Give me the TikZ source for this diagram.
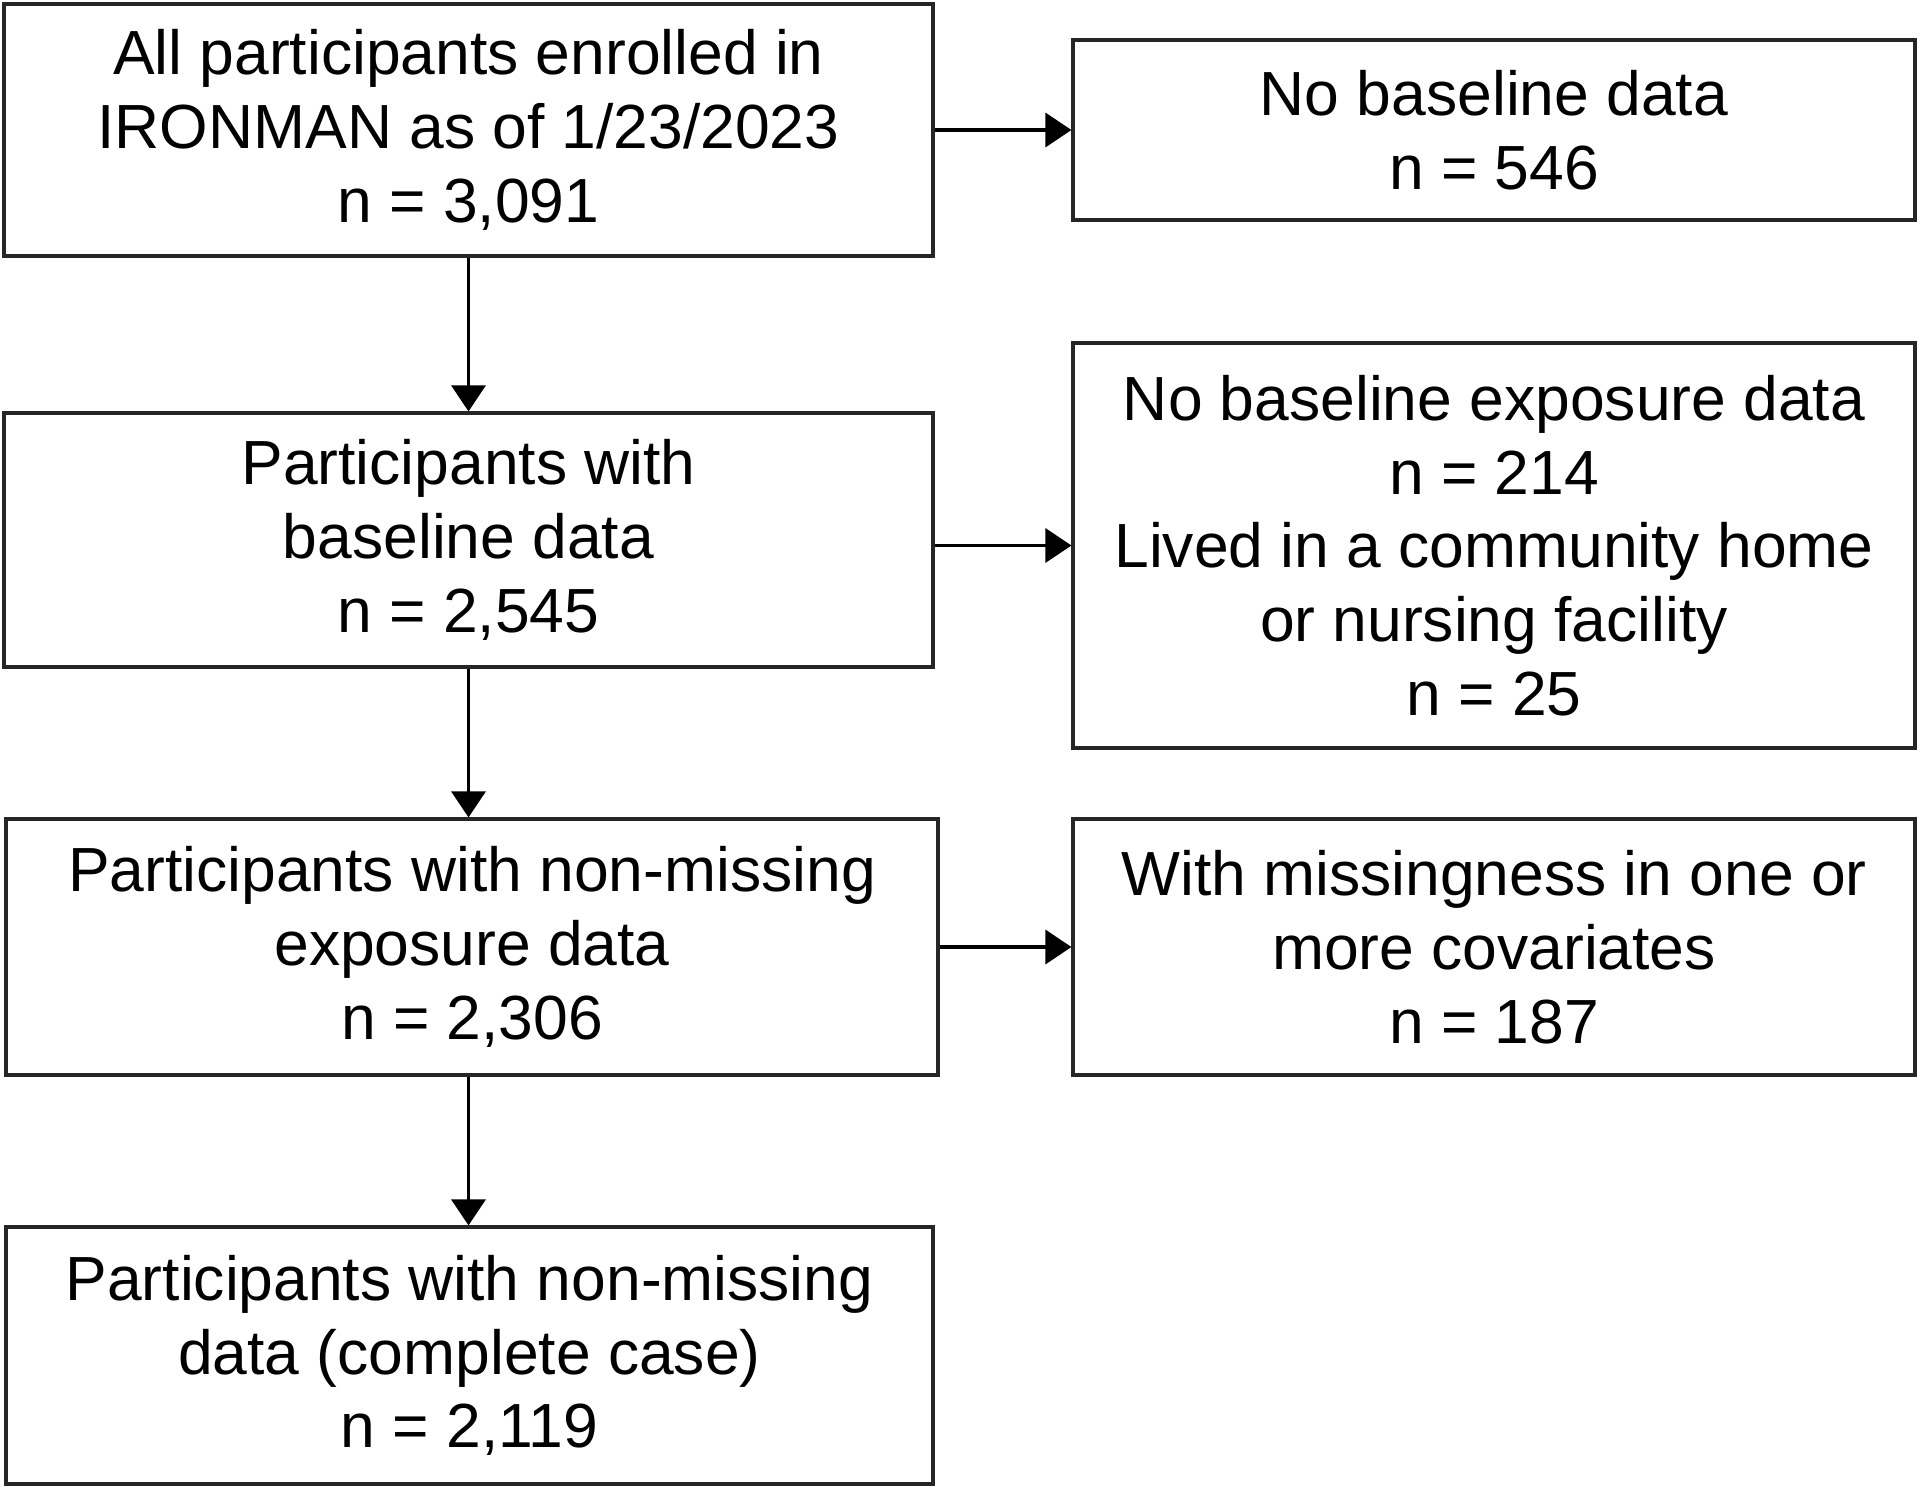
\documentclass[tikz,border=0pt]{standalone}
\usepackage{fontspec}
\setmainfont{Liberation Sans}
\usetikzlibrary{arrows.meta}

\tikzset{
  flowbox/.style={draw=black!85, line width=0.065cm, align=center, inner sep=0pt,
    font=\fontsize{35.5}{42}\selectfont},
  flowarrow/.style={-{Triangle[length=0.52cm,width=0.68cm]}, line width=0.065cm}
}

\begin{document}
\begin{tikzpicture}[x=0.02cm,y=-0.02cm]
    \useasboundingbox (0,0) rectangle (1920,1488);

    % left column
    \node[flowbox, minimum width=18.58cm, minimum height=5.04cm] (enrolled) at (468.5,130)
        {All participants enrolled in\\IRONMAN as of 1/23/2023\\n = 3,091};
    \node[flowbox, minimum width=18.58cm, minimum height=5.08cm] (baseline) at (468.5,540)
        {Participants with\\baseline data\\n = 2,545};
    \node[flowbox, minimum width=18.64cm, minimum height=5.12cm] (exposure) at (472,947)
        {Participants with non-missing\\exposure data\\n = 2,306};
    \node[flowbox, minimum width=18.54cm, minimum height=5.14cm] (complete) at (469.5,1355.5)
        {Participants with non-missing\\data (complete case)\\n = 2,119};

    % exclusions
    \node[flowbox, minimum width=16.84cm, minimum height=3.6cm] (nobase) at (1494,130)
        {No baseline data\\n = 546};
    \node[flowbox, minimum width=16.84cm, minimum height=8.1cm] (noexp) at (1494,545.5)
        {No baseline exposure data\\n = 214\\Lived in a community home\\or nursing facility\\n = 25};
    \node[flowbox, minimum width=16.84cm, minimum height=5.12cm] (nocov) at (1494,947)
        {With missingness in one or\\more covariates\\n = 187};

    \draw[flowarrow] (enrolled.south) -- (enrolled.south |- baseline.north);
    \draw[flowarrow] (enrolled.south |- baseline.south) -- (enrolled.south |- exposure.north);
    \draw[flowarrow] (enrolled.south |- exposure.south) -- (enrolled.south |- complete.north);

    \draw[flowarrow] (enrolled.east) -- (nobase.west);
    \draw[flowarrow] (baseline.east |- noexp.west) -- (noexp.west);
    \draw[flowarrow] (exposure.east) -- (nocov.west);
\end{tikzpicture}
\end{document}
